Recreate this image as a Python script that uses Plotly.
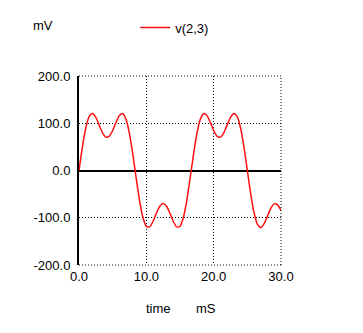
import plotly.graph_objects as go

time_ms = [0.0, 0.5, 1.0, 1.5, 2.0, 2.5, 3.0, 3.5, 4.0, 4.5, 5.0, 5.5, 6.0, 6.5, 7.0, 7.5,
           8.0, 8.5, 9.0, 9.5, 10.0, 10.5, 11.0, 11.5, 12.0, 12.5, 13.0, 13.5, 14.0, 14.5,
           15.0, 15.5, 16.0, 16.5, 17.0, 17.5, 18.0, 18.5, 19.0, 19.5, 20.0, 20.5, 21.0,
           21.5, 22.0, 22.5, 23.0, 23.5, 24.0, 24.5, 25.0, 25.5, 26.0, 26.5, 27.0, 27.5,
           28.0, 28.5, 29.0, 29.5, 30.0]
v23_mV = [0.0, 49.3, 89.4, 113.9, 120.7, 112.5, 96.1, 79.8, 70.6, 72.6, 84.7, 102.0,
          116.6, 120.3, 107.7, 77.5, 33.4, -16.9, -64.1, -99.5, -118.1, -119.4, -107.6,
          -90.3, -75.7, -70.0, -75.7, -90.3, -107.6, -119.4, -118.1, -99.5, -64.1, -16.9,
          33.4, 77.5, 107.7, 120.3, 116.6, 102.0, 84.7, 72.6, 70.6, 79.8, 96.1, 112.5,
          120.7, 113.9, 89.4, 49.3, 0.0, -49.3, -89.4, -113.9, -120.7, -112.5, -96.1,
          -79.8, -70.6, -72.6, -84.7]
x_ticks = [0, 10, 20, 30]
y_ticks = [-200, -100, 0, 100, 200]

FONT = "Liberation Sans, Arial, sans-serif"
DOT = "1px,2px"

fig = go.Figure()
fig.add_trace(go.Scatter(x=time_ms, y=v23_mV, mode="lines", name="v(2,3)",
                         line=dict(color="#ff1010", width=1.5, shape="spline", smoothing=0.6)))

frame = dict(color="black", width=1, dash=DOT)
fig.update_layout(
    width=355, height=325,
    margin=dict(l=71, r=82, t=68, b=68, autoexpand=False),
    paper_bgcolor="white", plot_bgcolor="white",
    font=dict(family=FONT, size=13, color="black"),
    showlegend=True,
    legend=dict(orientation="h", x=0.278, y=1.336, xref="paper", yref="paper",
                xanchor="left", yanchor="top", font=dict(size=13),
                bgcolor="rgba(0,0,0,0)"),
    xaxis=dict(range=[0, 30], tickvals=x_ticks, ticktext=[f"{v:.1f}" for v in x_ticks],
               showgrid=True, gridcolor="black", gridwidth=1, griddash=DOT,
               zeroline=False, showline=False, ticks="", ticklen=0,
               ticklabelstandoff=2),
    yaxis=dict(range=[-200, 200], tickvals=y_ticks, ticktext=[f"{v:.1f}" for v in y_ticks],
               showgrid=True, gridcolor="black", gridwidth=1, griddash=DOT,
               zeroline=True, zerolinecolor="black", zerolinewidth=2,
               showline=True, linecolor="black", linewidth=2, ticks="", ticklen=0,
               ticklabelstandoff=4),
    shapes=[
        dict(type="line", xref="paper", yref="paper", x0=0, x1=1, y0=1, y1=1, line=frame),
        dict(type="line", xref="paper", yref="paper", x0=0, x1=1, y0=0, y1=0, line=frame),
        dict(type="line", xref="paper", yref="paper", x0=1, x1=1, y0=0, y1=1, line=frame),
    ],
    annotations=[
        dict(text="mV", xref="paper", yref="paper", x=-0.237, y=1.269, xanchor="left",
             yanchor="middle", showarrow=False),
        dict(text="time", xref="paper", yref="paper", x=0.32, y=-0.228, xanchor="left",
             yanchor="middle", showarrow=False),
        dict(text="mS", xref="paper", yref="paper", x=0.568, y=-0.228, xanchor="left",
             yanchor="middle", showarrow=False),
    ],
)

fig.write_html("out.html")
